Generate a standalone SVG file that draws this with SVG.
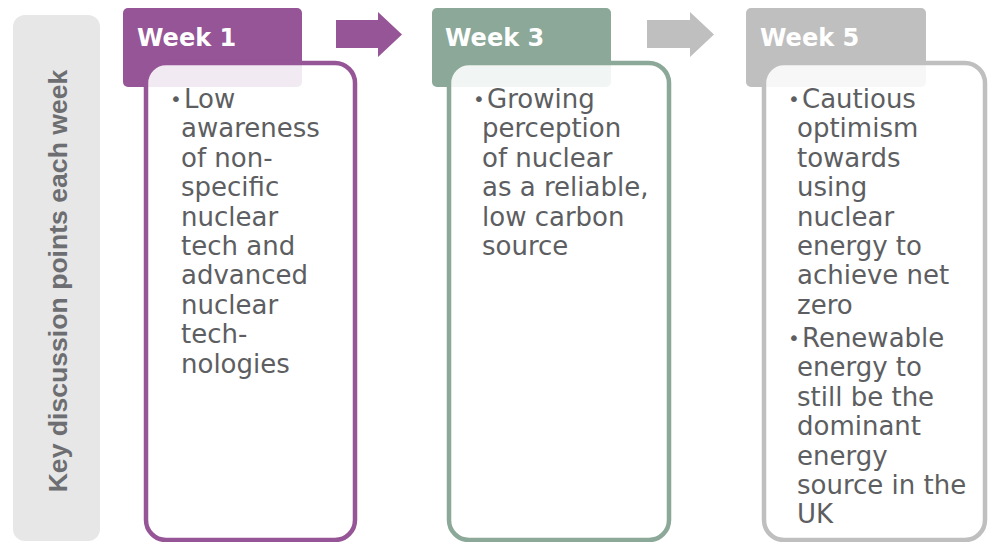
<svg xmlns="http://www.w3.org/2000/svg" width="993" height="542" viewBox="0 0 993 542">
<style>
.hdr{font-family:"DejaVu Sans",sans-serif;font-weight:bold;font-size:24px;fill:#ffffff}
.body{font-family:"DejaVu Sans",sans-serif;font-size:26px;fill:#5d5e61}
.bul{font-family:"DejaVu Sans",sans-serif;font-size:20px;fill:#5d5e61}
.box{fill:#ffffff;fill-opacity:0.88;stroke-width:4.5}
.side{font-family:"Liberation Sans",Arial,sans-serif;font-weight:bold;font-size:26.6px;fill:#6d6e71}
</style>
<rect width="993" height="542" fill="#ffffff"/>
<g id="side-label">
<rect x="13" y="15" width="87" height="526" rx="12" fill="#e7e7e7"/>
<text class="side" transform="translate(67,281) rotate(-90)" text-anchor="middle">Key discussion points each week</text>
</g>
<g id="connectors">
<polygon points="336,20 378,20 378,12 402,34.5 378,57 378,48 336,48" fill="#955596"/>
<polygon points="647,20 690,20 690,12 714,34.5 690,57 690,48 647,48" fill="#bfbfbf"/>
</g>
<g id="week1">
<rect x="123" y="8" width="179" height="79" rx="5" fill="#955596"/>
<text class="hdr" x="137" y="46">Week 1</text>
<rect class="box" x="146" y="63" width="209" height="477" rx="20" stroke="#955596"/>
<text class="bul" x="170" y="106">•</text>
<text class="body"><tspan x="184" y="108">Low</tspan><tspan x="181" y="137.4">awareness</tspan><tspan x="181" y="166.8">of non-</tspan><tspan x="181" y="196.2">specific</tspan><tspan x="181" y="225.6">nuclear</tspan><tspan x="181" y="255">tech and</tspan><tspan x="181" y="284.4">advanced</tspan><tspan x="181" y="313.8">nuclear</tspan><tspan x="181" y="343.2">tech-</tspan><tspan x="181" y="372.6">nologies</tspan></text>
</g>
<g id="week3">
<rect x="432" y="8" width="179" height="79" rx="5" fill="#8ba898"/>
<text class="hdr" x="445" y="46">Week 3</text>
<rect class="box" x="449" y="63" width="220" height="477" rx="20" stroke="#8ba898"/>
<text class="bul" x="473" y="106">•</text>
<text class="body"><tspan x="487" y="108">Growing</tspan><tspan x="482" y="137.4">perception</tspan><tspan x="482" y="166.8">of nuclear</tspan><tspan x="482" y="196.2">as a reliable,</tspan><tspan x="482" y="225.6">low carbon</tspan><tspan x="482" y="255">source</tspan></text>
</g>
<g id="week5">
<rect x="746" y="8" width="180" height="79" rx="5" fill="#bfbfbf"/>
<text class="hdr" x="760" y="46">Week 5</text>
<rect class="box" x="764" y="63" width="221" height="477" rx="20" stroke="#bfbfbf"/>
<text class="bul" x="788" y="106">•</text>
<text class="body"><tspan x="802" y="108">Cautious</tspan><tspan x="797" y="137.4">optimism</tspan><tspan x="797" y="166.8">towards</tspan><tspan x="797" y="196.2">using</tspan><tspan x="797" y="225.6">nuclear</tspan><tspan x="797" y="255">energy to</tspan><tspan x="797" y="284.4">achieve net</tspan><tspan x="797" y="313.8">zero</tspan></text>
<text class="bul" x="788" y="345">•</text>
<text class="body"><tspan x="802" y="347">Renewable</tspan><tspan x="797" y="376.4">energy to</tspan><tspan x="797" y="405.8">still be the</tspan><tspan x="797" y="435.2">dominant</tspan><tspan x="797" y="464.6">energy</tspan><tspan x="797" y="494">source in the</tspan><tspan x="797" y="523.4">UK</tspan></text>
</g>
</svg>
